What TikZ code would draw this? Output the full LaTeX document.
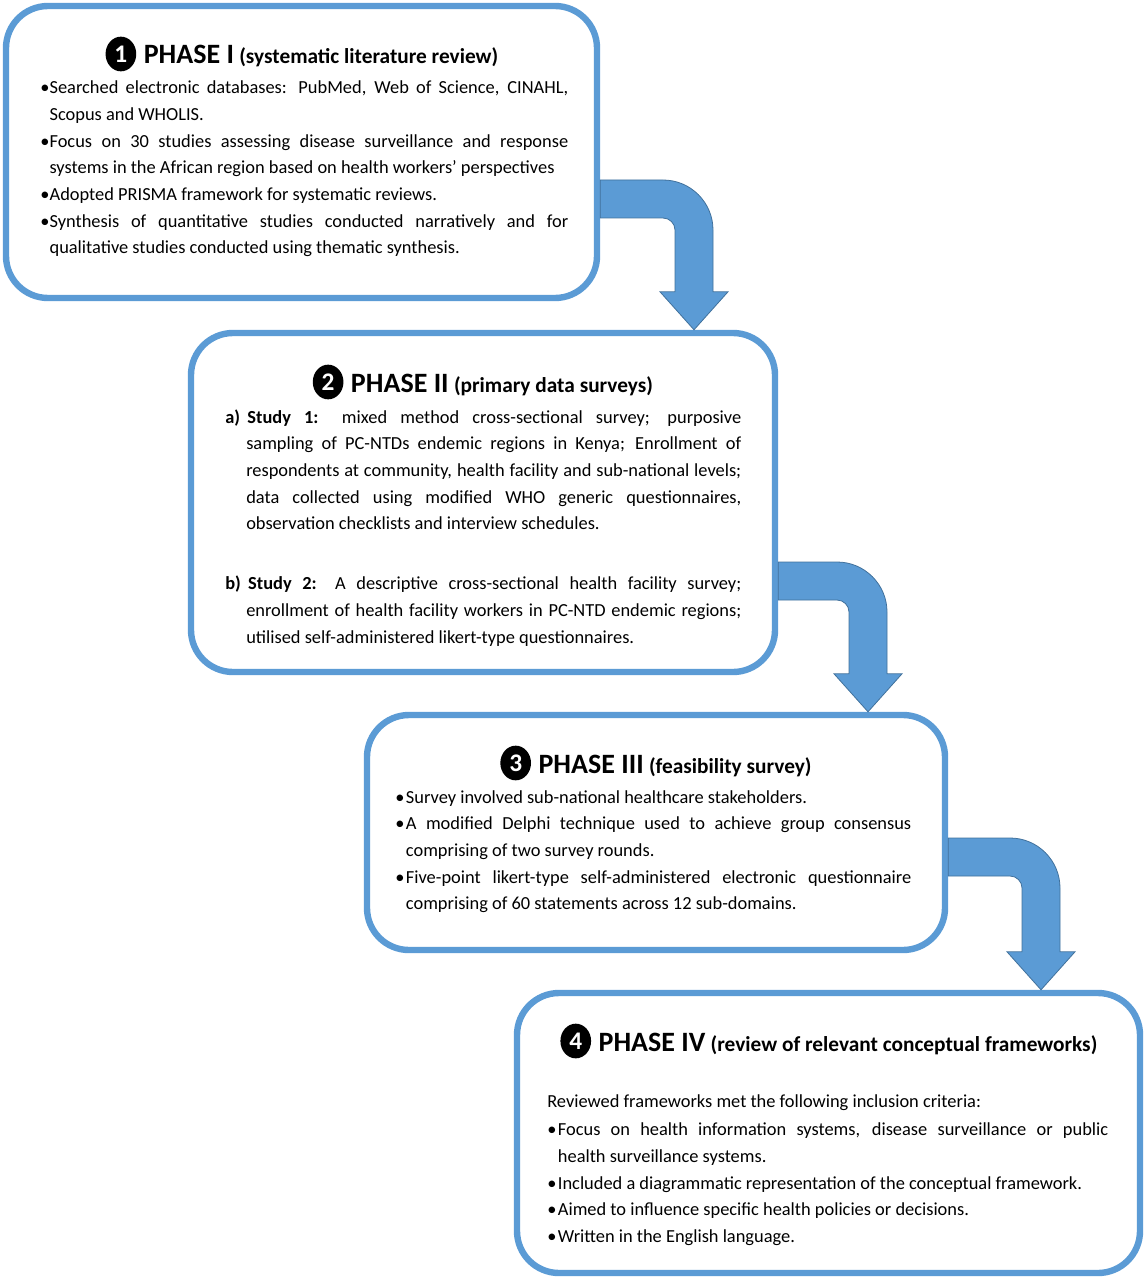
\documentclass[tikz,border=0pt]{standalone}
\usepackage{fontspec}
\setmainfont{Carlito}
\usetikzlibrary{calc,shapes.geometric}
\definecolor{boxblue}{HTML}{5B9BD5}
\definecolor{arrowedge}{HTML}{41719C}
\newlength\hangw
\newcommand\bul{\makebox[\hangw][l]{\textbullet}}
\newcommand\hangit{\hangindent=\hangw\hangafter=1\relax}
\newcommand\bodyfont{\fontsize{13.8}{20}\selectfont\hyphenpenalty=10000\exhyphenpenalty=10000\relax}
% #1 from node, #2 to node, #3 y of band top, #4 x of shaft centre
\newcommand\bentarrow[4]{%
  \fill[bentarr] (#1.east |- 0,#3) -- ({#4+19-50},#3)
    .. controls ({#4+19-22.4},#3) and ({#4+19},{#3+22.4}) .. ({#4+19},{#3+50})
    -- ($(#4,0 |- #2.north)+(19,-38)$) -- ($(#4,0 |- #2.north)+(34,-38)$)
    -- (#4,0 |- #2.north)
    -- ($(#4,0 |- #2.north)+(-34,-38)$) -- ($(#4,0 |- #2.north)+(-19,-38)$)
    -- ({#4-19},{#3+50})
    .. controls ({#4-19},{#3+43.4}) and ({#4-24.4},{#3+38}) .. ({#4-31},{#3+38})
    -- (#1.east |- 0,#3+38) -- cycle;}
\tikzset{
  phasebox/.style={draw=boxblue, line width=4.8pt, rounded corners=31.5pt, inner sep=0pt, fill=white},
  numcirc/.style={ellipse, fill=black, inner sep=0pt, minimum width=23pt, minimum height=26pt,
    text=white, font=\fontsize{19}{19}\selectfont\bfseries},
  titletext/.style={anchor=base, inner sep=0pt, font=\bfseries},
  bodytext/.style={anchor=base west, inner sep=0pt, align=justify, font=\bodyfont},
  bentarr/.style={fill=boxblue, draw=arrowedge, line width=0.6pt},
}
\newcommand\ttl[2]{{\fontsize{21}{21}\selectfont #1}\hspace{4pt}{\fontsize{16}{16}\selectfont #2}}
\begin{document}
\begin{tikzpicture}[x=0.75pt,y=-0.75pt]
\useasboundingbox (0,0) rectangle (1146,1280);
% boxes
\node[phasebox, minimum width=443.25pt, minimum height=219pt] (p1) at (301.5,152) {};
\node[phasebox, minimum width=438pt, minimum height=254.25pt] (p2) at (483,502.5) {};
\node[phasebox, minimum width=433.5pt, minimum height=176.25pt] (p3) at (656,832.5) {};
\node[phasebox, minimum width=467.25pt, minimum height=210pt] (p4) at (828.5,1133) {};
% arrows
\bentarrow{p1}{p2}{180}{694}
\bentarrow{p2}{p3}{562}{868}
\bentarrow{p3}{p4}{838}{1041}
% titles
\node[titletext] (t1) at (321,64) {\ttl{PHASE I}{(systematic literature review)}};
\node[numcirc, anchor=east] (c1) at ($(t1.base west)+(-7,-10)$) {1};
\node[titletext] (t2) at (502,392) {\ttl{PHASE II}{(primary data surveys)}};
\node[numcirc, anchor=east] (c2) at ($(t2.base west)+(-7,-10)$) {2};
\node[titletext] (t3) at (675,773) {\ttl{PHASE III}{(feasibility survey)}};
\node[numcirc, anchor=east] (c3) at ($(t3.base west)+(-7,-10)$) {3};
\node[titletext] (t4) at (848,1051) {\ttl{PHASE IV}{(review of relevant conceptual frameworks)}};
\node[numcirc, anchor=east] (c4) at ($(t4.base west)+(-7,-10)$) {4};
% bodies
\node[bodytext, text width=396pt] (b1) at (40,94) {\setlength{\hangw}{7pt}%
\hangit\bul Searched electronic databases: PubMed, Web of Science, CINAHL,\linebreak Scopus and WHOLIS.\par
\hangit\bul Focus on 30 studies assessing disease surveillance and response\linebreak systems in the African region based on health workers' perspectives\par
\hangit\bul Adopted PRISMA framework for systematic reviews.\par
\hangit\bul Synthesis of quantitative studies conducted narratively and for\linebreak qualitative studies conducted using thematic synthesis.\par};
\node[bodytext, text width=387pt] (b2) at (225,423) {\setlength{\hangw}{15.75pt}%
\hangit{\bfseries a)\hskip0.4em Study 1:} mixed method cross-sectional survey; purposive\linebreak
sampling of PC-NTDs endemic regions in Kenya; Enrollment of\linebreak
respondents at community, health facility and sub-national levels;\linebreak
data collected using modified WHO generic questionnaires,\linebreak
observation checklists and interview schedules.\par\vspace{25pt}
\hangit{\bfseries b)\hskip0.4em Study 2:} A descriptive cross-sectional health facility survey;\linebreak
enrollment of health facility workers in PC-NTD endemic regions;\linebreak
utilised self-administered likert-type questionnaires.\par};
\node[bodytext, text width=387pt] (b3) at (395,803) {\setlength{\hangw}{8pt}%
\hangit\bul Survey involved sub-national healthcare stakeholders.\par
\hangit\bul A modified Delphi technique used to achieve group consensus\linebreak comprising of two survey rounds.\par
\hangit\bul Five-point likert-type self-administered electronic questionnaire\linebreak comprising of 60 statements across 12 sub-domains.\par};
\node[bodytext, text width=420.75pt] (b4) at (547,1107) {\setlength{\hangw}{8pt}%
Reviewed frameworks met the following inclusion criteria:\par\vspace{1.5pt}
\hangit\bul Focus on health information systems, disease surveillance or public\linebreak health surveillance systems.\par
\hangit\bul Included a diagrammatic representation of the conceptual framework.\par
\hangit\bul Aimed to influence specific health policies or decisions.\par
\hangit\bul Written in the English language.\par};
\end{tikzpicture}
\end{document}
